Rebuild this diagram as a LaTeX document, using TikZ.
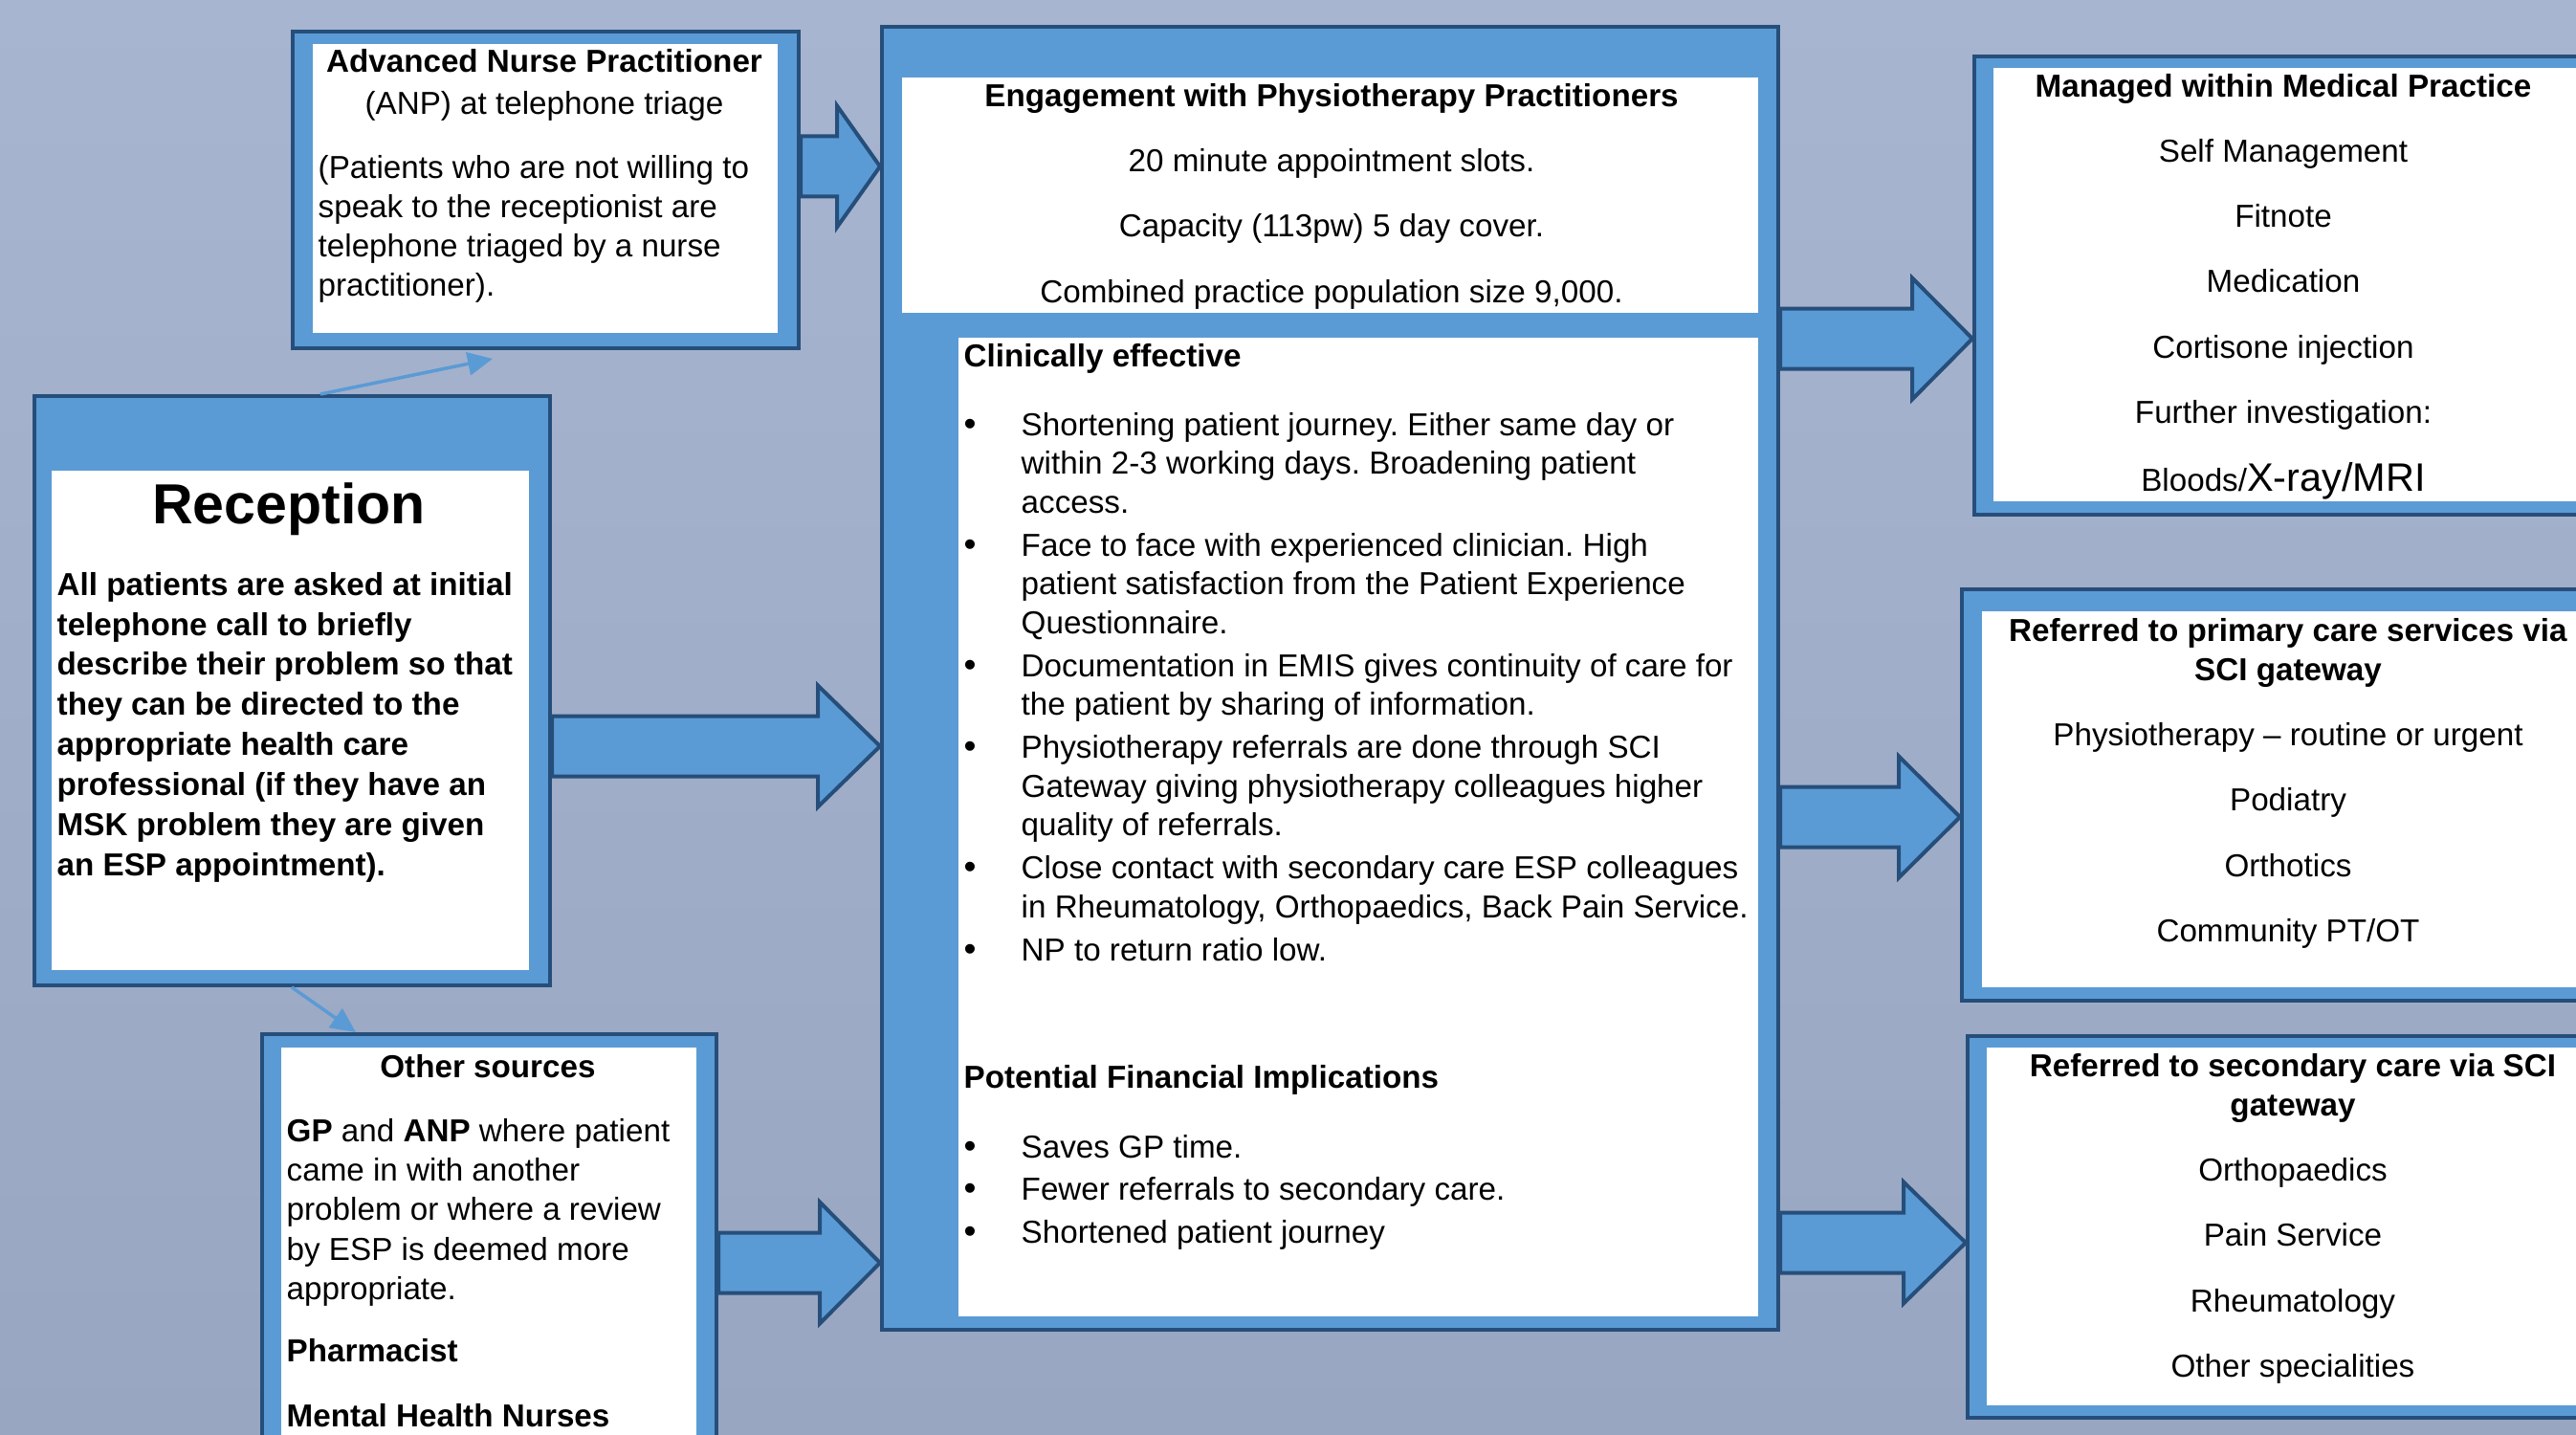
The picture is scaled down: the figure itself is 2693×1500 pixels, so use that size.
\documentclass[tikz,border=0pt]{standalone}
\usepackage{fontspec}
\setmainfont{Liberation Sans}
\usetikzlibrary{positioning,calc,arrows.meta,fadings}
\definecolor{boxblue}{RGB}{91,155,213}
\definecolor{boxedge}{RGB}{38,78,122}
\definecolor{bgtop}{RGB}{167,181,208}
\definecolor{bgbot}{RGB}{152,166,193}
\definecolor{bgdark}{RGB}{112,126,152}
\frenchspacing
\newcommand{\bodysize}{\fontsize{9.45}{11.7}\selectfont}
\newcommand{\bitem}{\makebox[6mm][l]{\fontsize{10.5}{10.5}\selectfont\textbullet}}
\newcommand{\bskip}{\hspace*{6mm}}
\tikzfading[name=midstreak,left color=transparent!100,middle color=transparent!0,right color=transparent!100]
% block arrow from one box to the next, at the height of a coordinate
\newcommand{\blockarrow}[4]{%
  \draw[bigarrow] let \p1=(#1.east |- #3), \p2=(#2.west |- #3) in
    (\x1,\y1+3.15mm) -- (\x2-#4,\y1+3.15mm) -- (\x2-#4,\y1+6.35mm) -- (\p2)
    -- (\x2-#4,\y1-6.35mm) -- (\x2-#4,\y1-3.15mm) -- (\x1,\y1-3.15mm) -- cycle;}

\begin{document}
\begin{tikzpicture}[x=0.1mm,y=-0.1mm,font=\bodysize,
  outerbox/.style={draw=boxedge,fill=boxblue,line width=0.4mm,inner sep=0pt,anchor=north west},
  panel/.style={fill=white,inner sep=0pt,anchor=north west},
  boxsize/.style 2 args={minimum width=#1*0.1mm,minimum height=#2*0.1mm},
  txt/.style={inner sep=0pt,text=black},
  bigarrow/.style={fill=boxblue,draw=boxedge,line width=0.4mm,line join=miter},
  thinarrow/.style={draw=boxblue,line width=0.35mm,-{Triangle[length=2.6mm,width=2.4mm]}}]
  \useasboundingbox (0,0) rectangle (2693,1500);
  \clip (0,0) rectangle (2693,1500);
  % background
  \shade[top color=bgtop,bottom color=bgbot] (0,0) rectangle (2693,1500);
  \fill[bgdark,opacity=0.45,path fading=midstreak] (2250,0) rectangle (2410,80);
  \fill[bgdark,opacity=0.35,path fading=midstreak] (2140,1040) rectangle (2290,1090);
  \fill[bgdark,opacity=0.35,path fading=midstreak] (2040,1478) rectangle (2260,1500);

  % boxes
  \node[outerbox,boxsize={529}{331}] (anpbox) at (304,31) {};
  \node[panel,boxsize={486}{302}] (anppanel) at (326,45) {};
  \node[outerbox,boxsize={539}{616}] (recbox) at (34,412) {};
  \node[panel,boxsize={499}{522}] (recpanel) at (53,491) {};
  \node[outerbox,boxsize={475}{520}] (othbox) at (272,1079) {};
  \node[panel,boxsize={434}{500}] (othpanel) at (293,1094) {};
  \node[outerbox,boxsize={937}{1362}] (centbox) at (920,26) {};
  \node[panel,boxsize={895}{246}] (toppanel) at (942,80) {};
  \node[panel,boxsize={836}{1023}] (clinpanel) at (1001,352) {};
  \node[outerbox,boxsize={680}{479}] (medbox) at (2062,57) {};
  \node[panel,boxsize={700}{453}] (medpanel) at (2083,70) {};
  \node[outerbox,boxsize={690}{430}] (primbox) at (2049,614) {};
  \node[panel,boxsize={700}{393}] (primpanel) at (2071,638) {};
  \node[outerbox,boxsize={690}{399}] (secbox) at (2055,1081) {};
  \node[panel,boxsize={700}{374}] (secpanel) at (2076,1094) {};

  % texts (multi-line nodes sit on the baseline of their last line)
  \node[txt,anchor=base] (anphead) at (569,76) {\bfseries Advanced Nurse Practitioner};
  \node[txt,anchor=base] (anpsub) at (569,120) {(ANP) at telephone triage};
  \node[txt,anchor=base west,align=left] (anpnote) at (332,310)
    {(Patients who are not willing to\\speak to the receptionist are\\telephone triaged by a nurse\\practitioner).};
  \node[txt,anchor=base,font=\fontsize{16.8}{20}\selectfont\bfseries] (rechead) at (302,547) {Reception};
  \node[txt,anchor=base west,align=left,font=\fontsize{9.45}{11.9}\selectfont\bfseries] (recnote) at (59,915)
    {All patients are asked at initial\\telephone call to briefly\\describe their problem so that\\they can be directed to the\\appropriate health care\\professional (if they have an\\MSK problem they are given\\an ESP appointment).};
  \node[txt,anchor=base] (othhead) at (510,1126) {\bfseries Other sources};
  \node[txt,anchor=base west,align=left] (othnote) at (299,1491)
    {\textbf{GP} and \textbf{ANP} where patient\\came in with another\\problem or where a review\\by ESP is deemed more\\appropriate.\\[6.8pt]\textbf{Pharmacist}\\[7.6pt]\textbf{Mental Health Nurses}};
  \node[txt,anchor=base,align=center,font=\fontsize{9.45}{19.35}\selectfont] (toptext) at (1392,316)
    {\textbf{Engagement with Physiotherapy Practitioners}\\20 minute appointment slots.\\Capacity (113pw) 5 day cover.\\Combined practice population size 9,000.};
  \node[txt,anchor=base west] (clinhead) at (1007,383) {\bfseries Clinically effective};
  \node[txt,anchor=base west,align=left,font=\fontsize{9.45}{11.55}\selectfont] (clinlist) at (1007,1004)
    {\bitem Shortening patient journey. Either same day or\\\bskip within 2-3 working days. Broadening patient\\\bskip access.\\[1.2pt]
     \bitem Face to face with experienced clinician. High\\\bskip patient satisfaction from the Patient Experience\\\bskip Questionnaire.\\[1.2pt]
     \bitem Documentation in EMIS gives continuity of care for\\\bskip the patient by sharing of information.\\[1.2pt]
     \bitem Physiotherapy referrals are done through SCI\\\bskip Gateway giving physiotherapy colleagues higher\\\bskip quality of referrals.\\[1.2pt]
     \bitem Close contact with secondary care ESP colleagues\\\bskip in Rheumatology, Orthopaedics, Back Pain Service.\\[1.2pt]
     \bitem NP to return ratio low.};
  \node[txt,anchor=base west] (finhead) at (1007,1137) {\bfseries Potential Financial Implications};
  \node[txt,anchor=base west,align=left,font=\fontsize{9.45}{12.66}\selectfont] (finlist) at (1007,1299)
    {\bitem Saves GP time.\\\bitem Fewer referrals to secondary care.\\\bitem Shortened patient journey};
  \node[txt,anchor=base,align=center,font=\fontsize{9.45}{19.35}\selectfont] (medtext) at (2387,513)
    {\textbf{Managed within Medical Practice}\\Self Management\\Fitnote\\Medication\\Cortisone injection\\Further investigation:\\[0.85pt]Bloods/{\fontsize{11.8}{12}\selectfont X-ray/MRI}};
  \node[txt,anchor=base,align=center] (primtext) at (2392,984)
    {\textbf{Referred to primary care services via}\\\textbf{SCI gateway}\\[7.65pt]Physiotherapy \textendash{} routine or urgent\\[7.65pt]Podiatry\\[7.65pt]Orthotics\\[7.65pt]Community PT/OT};
  \node[txt,anchor=base,align=center] (sectext) at (2397,1439)
    {\textbf{Referred to secondary care via SCI}\\\textbf{gateway}\\[7.65pt]Orthopaedics\\[7.65pt]Pain Service\\[7.65pt]Rheumatology\\[7.65pt]Other specialities};

  % block arrows
  \coordinate (a1) at (0,174);
  \coordinate (a2) at (0,780);
  \coordinate (a3) at (0,1320);
  \coordinate (a4) at (0,354);
  \coordinate (a5) at (0,854);
  \coordinate (a6) at (0,1299);
  \blockarrow{anpbox}{centbox}{a1}{4.5mm}
  \blockarrow{recbox}{centbox}{a2}{6.5mm}
  \blockarrow{othbox}{centbox}{a3}{6.3mm}
  \blockarrow{centbox}{medbox}{a4}{6.3mm}
  \blockarrow{centbox}{primbox}{a5}{6.4mm}
  \blockarrow{centbox}{secbox}{a6}{6.5mm}

  % thin arrows out of reception
  \coordinate (anpin) at (515,375);
  \draw[thinarrow] ([xshift=30.1mm]recbox.north west) -- (anpin);
  \draw[thinarrow] ([xshift=27.1mm]recbox.south west) -- ([xshift=10mm]othbox.north west);
\end{tikzpicture}
\end{document}
